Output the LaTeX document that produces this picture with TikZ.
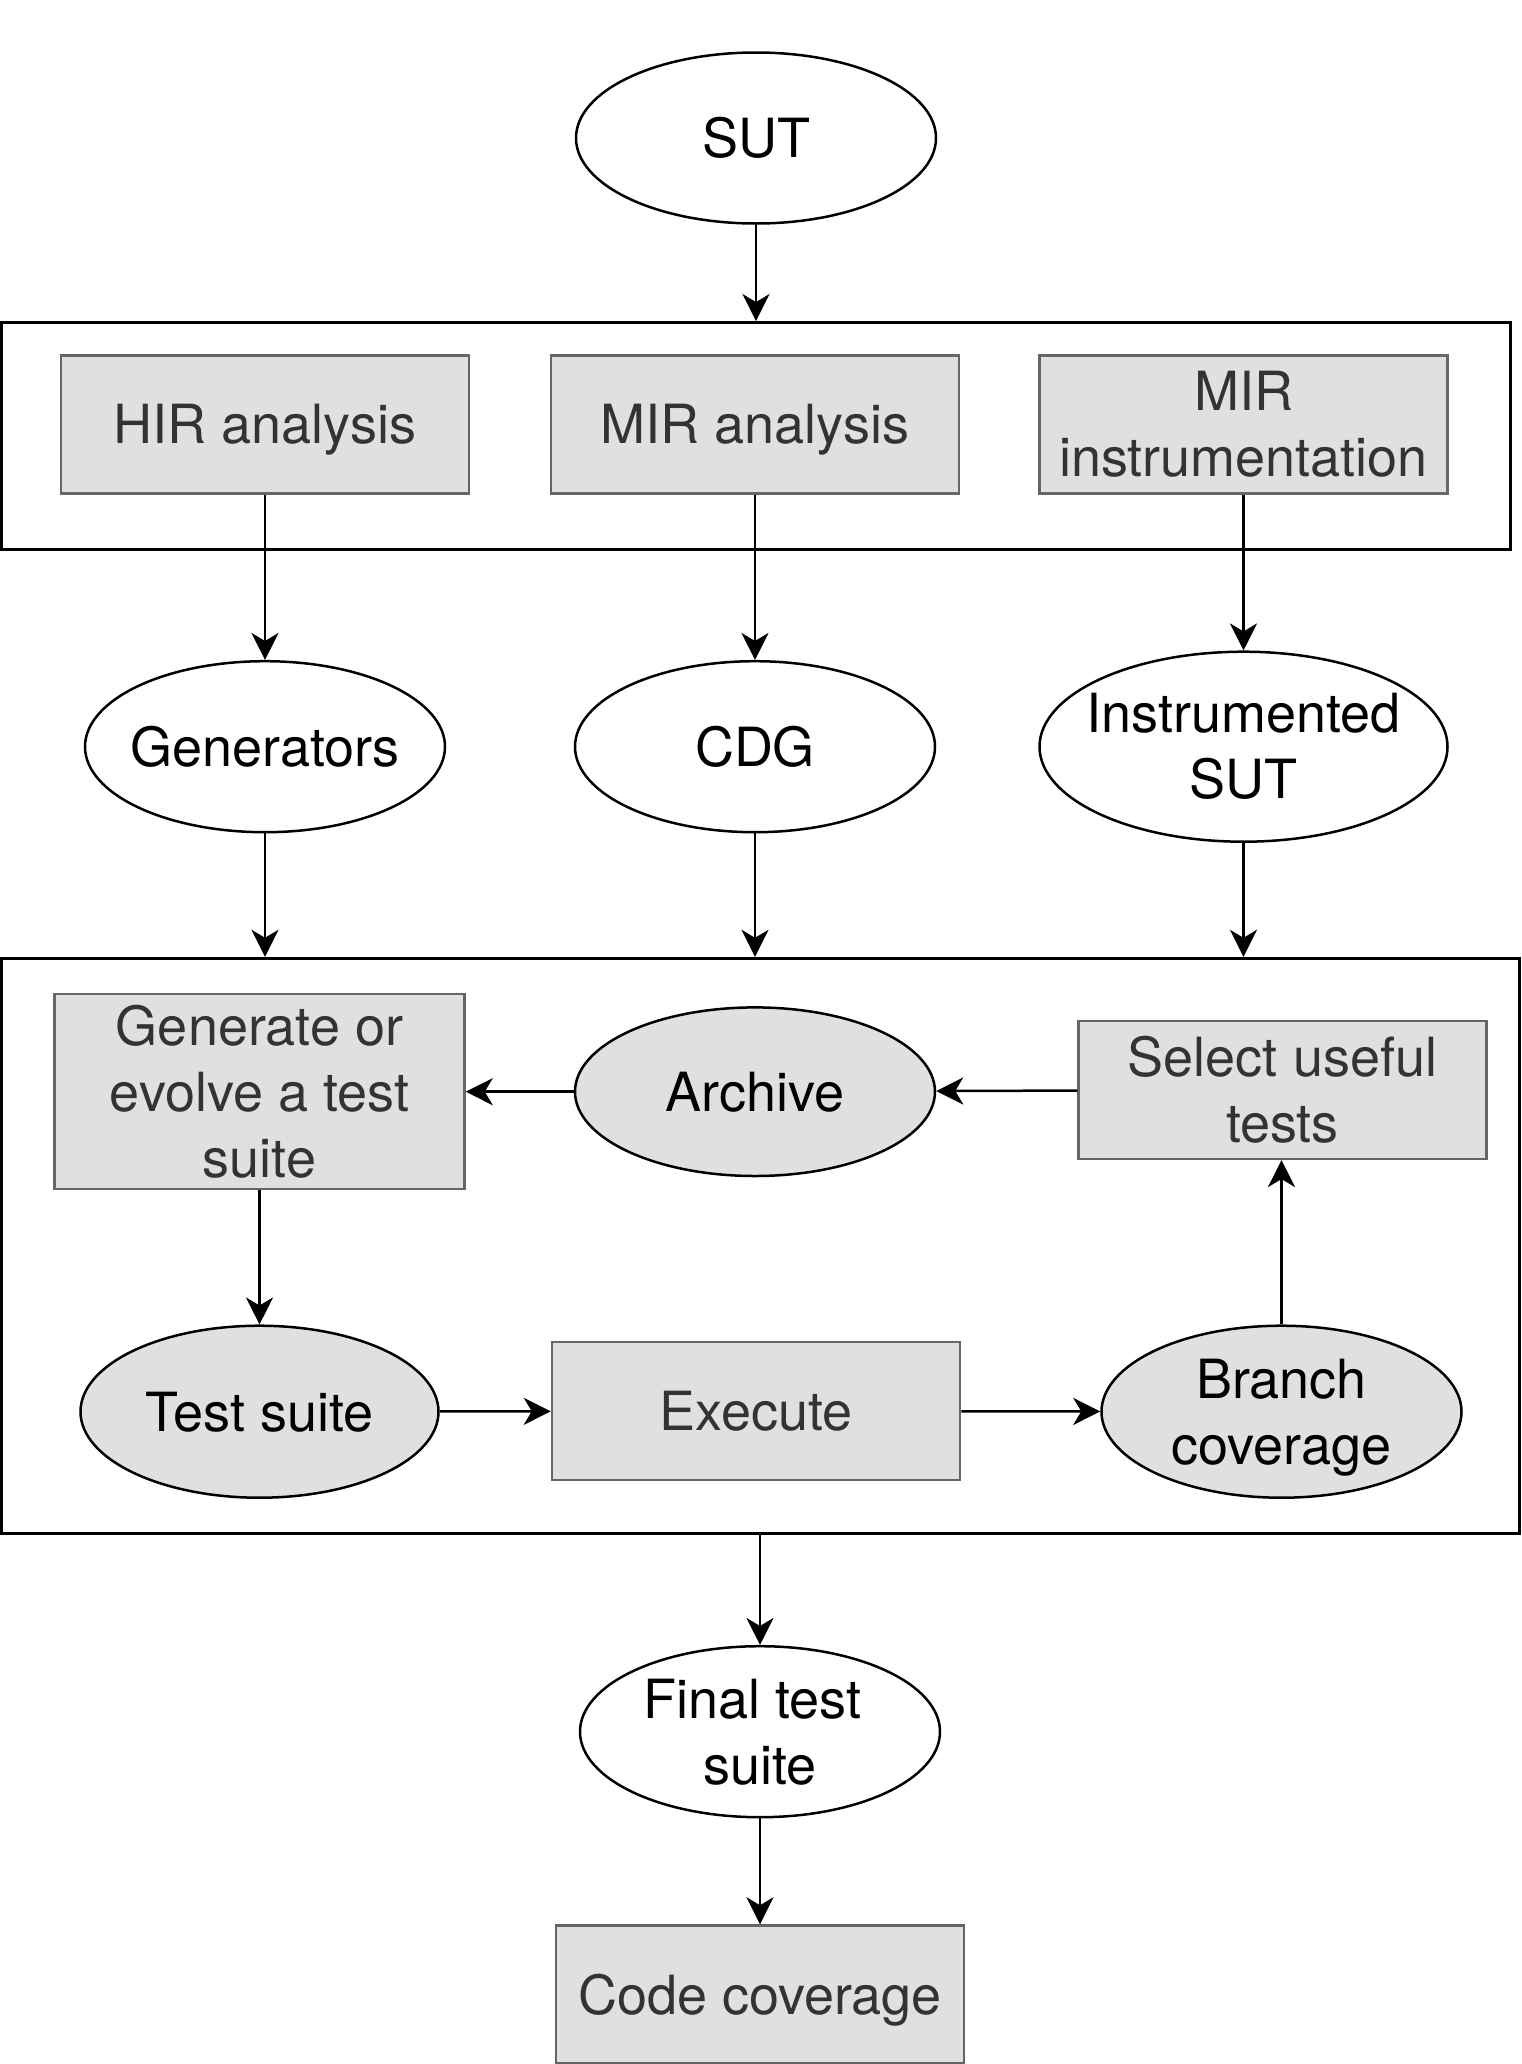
\documentclass[tikz,border=0pt]{standalone}
\usepackage{fontspec}
\setmainfont{TeX Gyre Heros}
\usetikzlibrary{shapes.geometric,arrows.meta}
\definecolor{boxfill}{HTML}{E0E0E0}
\definecolor{boxline}{HTML}{666666}
\definecolor{boxtext}{HTML}{333333}

\begin{document}
\begin{tikzpicture}[x=1pt,y=-1pt,
		every node/.style={font=\fontsize{54}{66}\selectfont, align=center},
		oneline/.style={text height=39pt, text depth=0pt},
		stage/.style={rectangle, draw=boxline, fill=boxfill, text=boxtext, line width=2.5pt, minimum width=408pt, minimum height=138pt, inner sep=0pt},
		artefact/.style={ellipse, draw=black, line width=2.5pt, minimum width=360pt, minimum height=171pt, inner sep=-70pt},
		loopdata/.style={artefact, fill=boxfill},
		frame/.style={rectangle, draw=black, line width=3pt, inner sep=0pt},
		flow/.style={-{Stealth[length=27pt,width=27pt,inset=8pt]}, line width=2.5pt}]
		\useasboundingbox (0,0) rectangle (1521,2064);

		\node[artefact, oneline] (sut) at (756,138) {SUT};

		% analysis stage
		\node[frame, minimum width=1509pt, minimum height=226.7pt] (front) at (756,435.9) {};
		\node[stage, oneline] (hir) at (265,424.3) {HIR analysis};
		\node[stage, oneline] (mira) at (755,424.3) {MIR analysis};
		\node[stage] (miri) at (1243.5,424.3) {MIR\\instrumentation};

		\node[artefact, oneline] (gens) at (265,746.7) {Generators};
		\node[artefact, oneline] (cdg) at (755,746.7) {CDG};
		\node[artefact, minimum width=408pt, minimum height=190pt] (isut) at (1243.5,746.7) {Instrumented\\SUT};

		% search loop
		\node[frame, minimum width=1517.7pt, minimum height=575.2pt] (loop) at (760.4,1245.9) {};
		\node[stage, minimum width=410pt, minimum height=195pt] (evolve) at (259.5,1091.7) {Generate or\\evolve a test\\suite};
		\node[loopdata, oneline, minimum height=168.6pt] (archive) at (755,1091.7) {Archive};
		\node[stage] (select) at (1282.5,1089.8) {Select useful\\tests};
		\node[loopdata, oneline, minimum width=358pt, minimum height=172pt] (suite) at (259.5,1411.7) {Test suite};
		\node[stage, oneline] (execute) at (756,1411) {Execute};
		\node[loopdata, text depth=0pt, minimum height=172pt] (branch) at (1281.5,1411.7) {Branch\\coverage};

		\node[artefact] (final) at (760,1731.7) {Final test\kern15pt\\suite};
		\node[stage, oneline] (codecov) at (760,1994.5) {Code coverage};

		\draw[flow] (sut) -- (sut |- front.north);
		\draw[flow] (hir) -- (gens);
		\draw[flow] (mira) -- (cdg);
		\draw[flow] (miri) -- (isut);
		\draw[flow] (gens) -- (gens |- loop.north);
		\draw[flow] (cdg) -- (cdg |- loop.north);
		\draw[flow] (isut) -- (isut |- loop.north);
		\draw[flow] (archive) -- (evolve);
		\draw[flow] (select) -- (archive);
		\draw[flow] (evolve) -- (suite);
		\draw[flow] (suite) -- (execute);
		\draw[flow] (execute) -- (branch);
		\draw[flow] (branch) -- (branch |- select.south);
		\draw[flow] (final |- loop.south) -- (final);
		\draw[flow] (final) -- (codecov);
	\end{tikzpicture}
\end{document}
